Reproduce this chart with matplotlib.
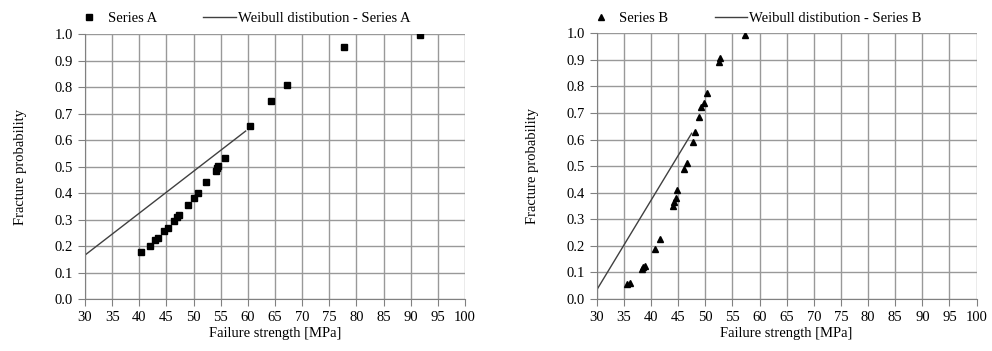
import numpy as np
import matplotlib
matplotlib.use('Agg')
from matplotlib import pyplot as plt

# Series A - measured points
strength_a = [40.4, 42.0, 42.9, 43.4, 44.6, 45.2, 46.4, 47.0, 47.4, 48.9, 50.0,
              50.8, 52.2, 54.1, 54.4, 54.5, 55.7, 60.4, 64.3, 67.3, 77.8, 91.7]
prob_a = [0.178, 0.201, 0.223, 0.231, 0.257, 0.267, 0.294, 0.311, 0.317, 0.356, 0.380,
          0.401, 0.442, 0.484, 0.493, 0.502, 0.533, 0.652, 0.747, 0.809, 0.952, 0.996]
# Weibull fit A
weib_x_a = [30.0, 59.6]
weib_y_a = [0.166, 0.634]

# Series B - measured points
strength_b = [35.5, 36.1, 38.3, 38.6, 38.9, 40.7, 41.7, 44.0, 44.3, 44.6, 44.8,
              46.1, 46.6, 47.7, 48.2, 48.8, 49.3, 49.8, 50.3, 52.6, 52.8, 57.3]
prob_b = [0.055, 0.061, 0.112, 0.119, 0.125, 0.187, 0.226, 0.350, 0.366, 0.379, 0.410,
          0.488, 0.513, 0.592, 0.630, 0.684, 0.721, 0.739, 0.774, 0.893, 0.906, 0.994]
# Weibull fit B
weib_x_b = [30.0, 47.5]
weib_y_b = [0.034, 0.624]

x_ticks = np.arange(30, 101, 5)
y_ticks = np.arange(0, 1.01, 0.1)

plt.rcParams['font.family'] = ['Liberation Serif', 'DejaVu Serif']
plt.rcParams['font.size'] = 10

fig = plt.figure(figsize=(9.92, 3.51), dpi=100)
ax_a = fig.add_axes([0.0857, 0.148, 0.383, 0.755])
ax_b = fig.add_axes([0.6015, 0.148, 0.383, 0.757])

panels = [
    (ax_a, strength_a, prob_a, weib_x_a, weib_y_a, 's', 5, 'A'),
    (ax_b, strength_b, prob_b, weib_x_b, weib_y_b, '^', 5, 'B'),
]

for ax, sx, sy, wx, wy, mk, ms, name in panels:
    ax.plot(sx, sy, linestyle='none', marker=mk, markersize=ms, color='black',
            label='Series ' + name, zorder=3)
    ax.plot(wx, wy, color='#404040', linewidth=1.0,
            label='Weibull distibution - Series ' + name, zorder=2)
    ax.set_xlim(30, 100)
    ax.set_ylim(0, 1.0)
    ax.set_xticks(x_ticks)
    ax.set_yticks(y_ticks)
    ax.set_yticklabels(['%.1f' % v for v in y_ticks])
    ax.grid(True, color='#999999', linewidth=1.0)
    ax.set_axisbelow(True)
    for side in ['top', 'right']:
        ax.spines[side].set_visible(False)
    for side in ['left', 'bottom']:
        ax.spines[side].set_color('#808080')
    ax.tick_params(direction='out', length=5, color='#808080', labelsize=10.5)
    ax.set_xlabel('Failure strength [MPa]', fontsize=10.5, labelpad=2)
    ax.set_ylabel('Fracture probability', fontsize=10.5, labelpad=20)
    ax.legend(loc='lower left', bbox_to_anchor=(-0.05, 1.005), ncol=2, frameon=False,
              fontsize=10.5, handlelength=2.2, columnspacing=3.2, borderaxespad=0.1,
              handletextpad=0.15)

fig.savefig('out.png', dpi=100)
